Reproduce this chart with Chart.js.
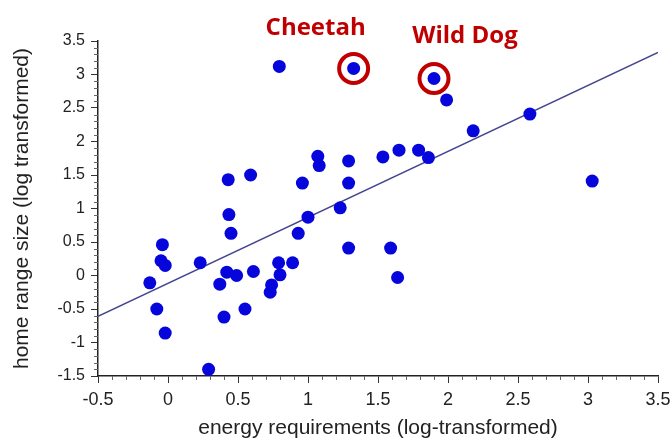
<!DOCTYPE html>
<html>
<head>
<meta charset="utf-8">
<script src="https://cdn.jsdelivr.net/npm/chart.js@4.4.1/dist/chart.umd.min.js"></script>
<style>
    html, body { margin: 0; padding: 0; background: #fff; }
    #wrap { width: 671px; height: 441px; }
</style>
</head>
<body>
<div id="wrap"><canvas id="chart"></canvas></div>
<script>
// energy requirements (x) vs home range size (y), both log-transformed
const energyX = [
    0.795, 1.326, 1.90, 1.99, 2.585, 2.18, 3.03,
    1.07, 1.08, 1.29, 1.535, 1.65, 1.79, 1.86,
    0.43, 0.59, 0.96, 1.29, 1.23, 1.00, 0.93,
    0.435, 0.45, 1.29, 1.59, 1.64,
    -0.04, -0.05, -0.02, -0.13, -0.08, -0.02,
    0.23, 0.29, 0.37, 0.42, 0.49, 0.40, 0.55, 0.61,
    0.73, 0.74, 0.80, 0.79, 0.89
];
const homeRangeY = [
    3.12, 3.09, 2.94, 2.62, 2.41, 2.16, 1.41,
    1.78, 1.64, 1.71, 1.77, 1.87, 1.87, 1.76,
    1.43, 1.50, 1.38, 1.38, 1.01, 0.87, 0.63,
    0.91, 0.63, 0.41, 0.41, -0.03,
    0.46, 0.22, 0.15, -0.11, -0.50, -0.86,
    0.19, -1.40, -0.13, 0.05, 0.00, -0.62, -0.50, 0.06,
    -0.25, -0.14, 0.01, 0.19, 0.19
];
// highlighted species
const highlightNames = ['Cheetah', 'Wild Dog'];
const highlightX = [1.326, 1.90];
const highlightY = [3.09, 2.94];
// regression line
const fitX = [-0.5, 3.5];
const fitY = [-0.61, 3.33];
const xTicks = [-0.5, 0, 0.5, 1, 1.5, 2, 2.5, 3, 3.5];
const yTicks = [-1.5, -1, -0.5, 0, 0.5, 1, 1.5, 2, 2.5, 3, 3.5];

const RED = '#c00000';
const AXIS_FONT = '"Liberation Sans", Arial, sans-serif';

const minorTicks = {
    id: 'minorTicks',
    afterDraw: function (chart) {
        const ctx = chart.ctx;
        const xs = chart.scales.x;
        const ys = chart.scales.y;
        ctx.save();
        ctx.strokeStyle = '#666';
        ctx.lineWidth = 1;
        ctx.beginPath();
        for (let v = -5; v <= 35; v++) {
            if (v % 5 === 0) continue;
            const px = Math.round(xs.getPixelForValue(v / 10)) + 0.5;
            ctx.moveTo(px, xs.top);
            ctx.lineTo(px, xs.top + 4);
        }
        for (let v = -15; v <= 35; v++) {
            if (v % 5 === 0) continue;
            const py = Math.round(ys.getPixelForValue(v / 10)) + 0.5;
            ctx.moveTo(ys.right, py);
            ctx.lineTo(ys.right - 4, py);
        }
        ctx.stroke();
        ctx.restore();
    }
};

const speciesLabels = {
    id: 'speciesLabels',
    afterDatasetsDraw: function (chart) {
        const ctx = chart.ctx;
        const xs = chart.scales.x;
        const ys = chart.scales.y;
        const offsets = [[-38, -33], [31, -36]];
        ctx.save();
        ctx.fillStyle = RED;
        ctx.font = 'bold 24px "Open Sans", "Liberation Sans", sans-serif';
        ctx.textAlign = 'center';
        ctx.textBaseline = 'alphabetic';
        for (let i = 0; i < highlightNames.length; i++) {
            const px = xs.getPixelForValue(highlightX[i]);
            const py = ys.getPixelForValue(highlightY[i]);
            ctx.fillText(highlightNames[i], px + offsets[i][0], py + offsets[i][1]);
        }
        ctx.restore();
    }
};

const points = energyX.map((x, i) => ({ x: x, y: homeRangeY[i] }));
const rings = highlightX.map((x, i) => ({ x: x, y: highlightY[i] }));
const fit = fitX.map((x, i) => ({ x: x, y: fitY[i] }));

new Chart(document.getElementById('chart'), {
    type: 'scatter',
    data: {
        datasets: [
            {
                type: 'line',
                data: fit,
                borderColor: '#454590',
                borderWidth: 1.5,
                pointRadius: 0,
                fill: false,
                order: 3
            },
            {
                data: points,
                backgroundColor: '#0505dc',
                borderColor: '#0505dc',
                pointRadius: 6.5,
                pointHoverRadius: 6.5,
                borderWidth: 0,
                order: 2
            },
            {
                data: rings,
                backgroundColor: 'rgba(0,0,0,0)',
                borderColor: RED,
                pointRadius: 14.5,
                pointHoverRadius: 14.5,
                borderWidth: 4,
                order: 1
            }
        ]
    },
    options: {
        responsive: true,
        maintainAspectRatio: false,
        animation: false,
        events: [],
        layout: { autoPadding: false, padding: { top: 41, right: 13, left: 0, bottom: 0 } },
        plugins: {
            legend: { display: false },
            tooltip: { enabled: false }
        },
        scales: {
            x: {
                type: 'linear',
                min: -0.5,
                max: 3.5,
                afterBuildTicks: function (scale) {
                    scale.ticks = xTicks.map(v => ({ value: v }));
                },
                afterFit: function (scale) {
                    scale.height = 65;
                    scale.paddingLeft = 0;
                    scale.paddingRight = 0;
                },
                ticks: {
                    color: '#222',
                    font: { family: AXIS_FONT, size: 18 },
                    padding: 6,
                    maxRotation: 0,
                    callback: v => String(v)
                },
                grid: { drawOnChartArea: false, drawTicks: true, tickLength: 7, color: '#333' },
                border: { display: true, color: '#222', width: 1.5 },
                title: {
                    display: true,
                    text: 'energy requirements (log-transformed)',
                    color: '#222',
                    font: { family: AXIS_FONT, size: 21 },
                    padding: { top: 0, bottom: 0 }
                }
            },
            y: {
                type: 'linear',
                min: -1.5,
                max: 3.5,
                afterBuildTicks: function (scale) {
                    scale.ticks = yTicks.map(v => ({ value: v }));
                },
                afterFit: function (scale) {
                    scale.width = 98;
                    scale.paddingTop = 0;
                    scale.paddingBottom = 0;
                },
                ticks: {
                    color: '#222',
                    font: { family: AXIS_FONT, size: 16 },
                    padding: 6,
                    callback: v => String(v)
                },
                grid: { drawOnChartArea: false, drawTicks: true, tickLength: 7, color: '#333' },
                border: { display: true, color: '#222', width: 1.5 },
                title: {
                    display: true,
                    text: 'home range size (log transformed)',
                    color: '#222',
                    font: { family: AXIS_FONT, size: 21 },
                    padding: { top: 10, bottom: 0 }
                }
            }
        }
    },
    plugins: [minorTicks, speciesLabels]
});
</script>
</body>
</html>
